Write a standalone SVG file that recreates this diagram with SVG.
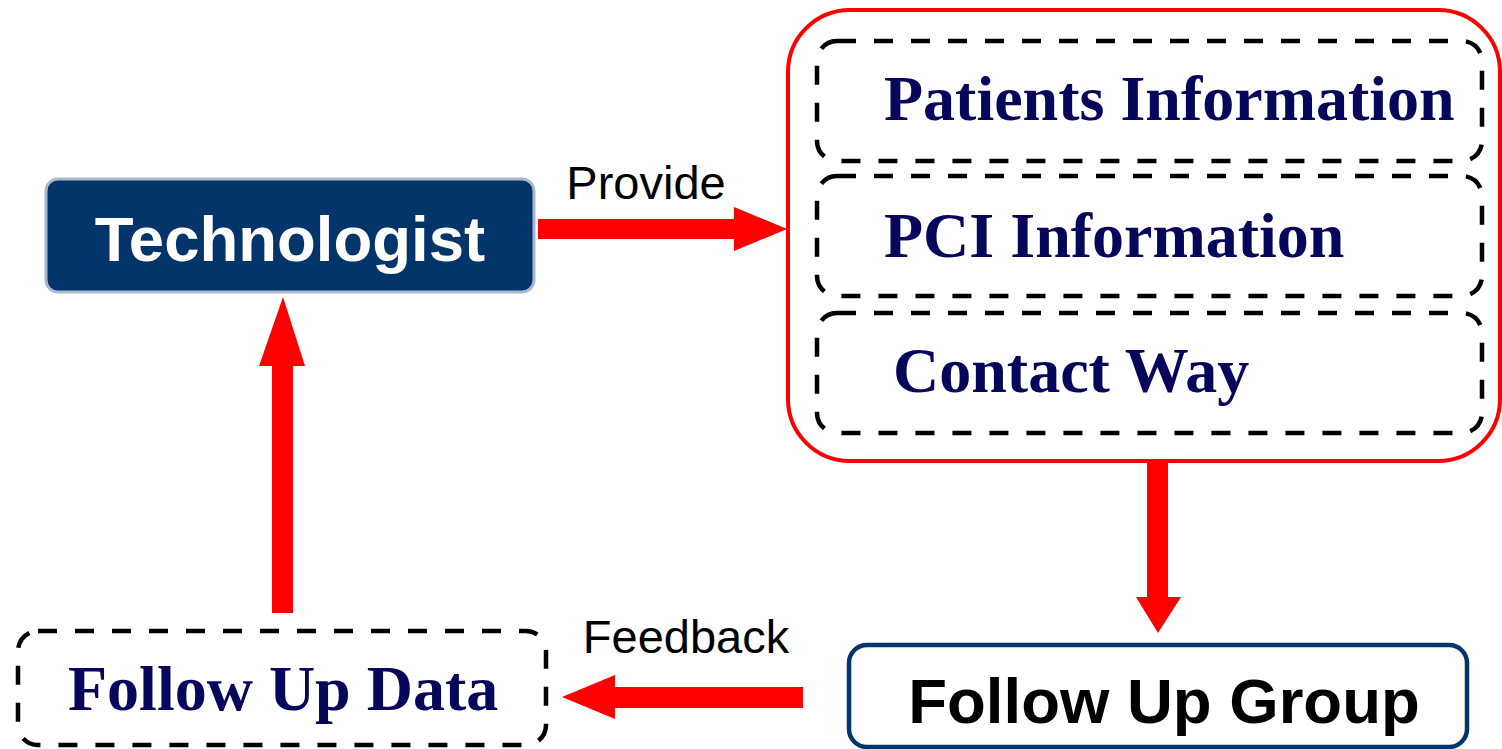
<svg xmlns="http://www.w3.org/2000/svg" width="1502" height="749" viewBox="0 0 1502 749">
<style>
.dash{fill:none;stroke:#000;stroke-width:4.5;stroke-dasharray:19 18}
.serif{font-family:"Liberation Serif","Times New Roman",serif;font-weight:bold;font-size:64px;fill:#06065a}
.sans{font-family:"Liberation Sans",Arial,sans-serif}
.arrow{fill:#ff0000}
</style>
<rect width="1502" height="749" fill="#fff"/>
<g id="connectors">
  <polygon class="arrow" points="538,219 734,219 734,207 787,229 734,251 734,239 538,239"/>
  <polygon class="arrow" points="1147,462 1168,462 1168,597 1181,597 1158,633 1136,597 1147,597"/>
  <polygon class="arrow" points="803,687 615,687 615,675 562,697 615,719 615,708 803,708"/>
  <polygon class="arrow" points="272,613 293,613 293,366 305,366 283,297 259,366 272,366"/>
  <text class="sans" x="646" y="199" font-size="47" text-anchor="middle" fill="#000">Provide</text>
  <text class="sans" x="686" y="653" font-size="47" text-anchor="middle" fill="#000">Feedback</text>
</g>
<g id="technologist">
  <rect x="46" y="179" width="488" height="113" rx="12" fill="#03346a" stroke="#a9b8cc" stroke-width="3"/>
  <text class="sans" x="290" y="261" font-size="63.5" font-weight="bold" fill="#fff" text-anchor="middle">Technologist</text>
</g>
<g id="info-group">
  <rect x="788" y="10" width="712" height="451" rx="62" fill="none" stroke="#ff0000" stroke-width="4"/>
  <g id="patients-information">
    <rect class="dash" x="817" y="41" width="665" height="120" rx="20"/>
    <text class="serif" x="884" y="120">Patients Information</text>
  </g>
  <g id="pci-information">
    <rect class="dash" x="817" y="176" width="665" height="120" rx="20"/>
    <text class="serif" x="884" y="257">PCI Information</text>
  </g>
  <g id="contact-way">
    <rect class="dash" x="817" y="313" width="665" height="120" rx="20"/>
    <text class="serif" x="893" y="392">Contact Way</text>
  </g>
</g>
<g id="follow-up-group">
  <rect x="849" y="645" width="618" height="102" rx="18" fill="#fff" stroke="#03346a" stroke-width="4.5"/>
  <text class="sans" x="1164" y="723" font-size="63.5" font-weight="bold" fill="#000" text-anchor="middle">Follow Up Group</text>
</g>
<g id="follow-up-data">
  <rect class="dash" x="18" y="631" width="528" height="114" rx="20"/>
  <text class="serif" x="68" y="710">Follow Up Data</text>
</g>
</svg>
